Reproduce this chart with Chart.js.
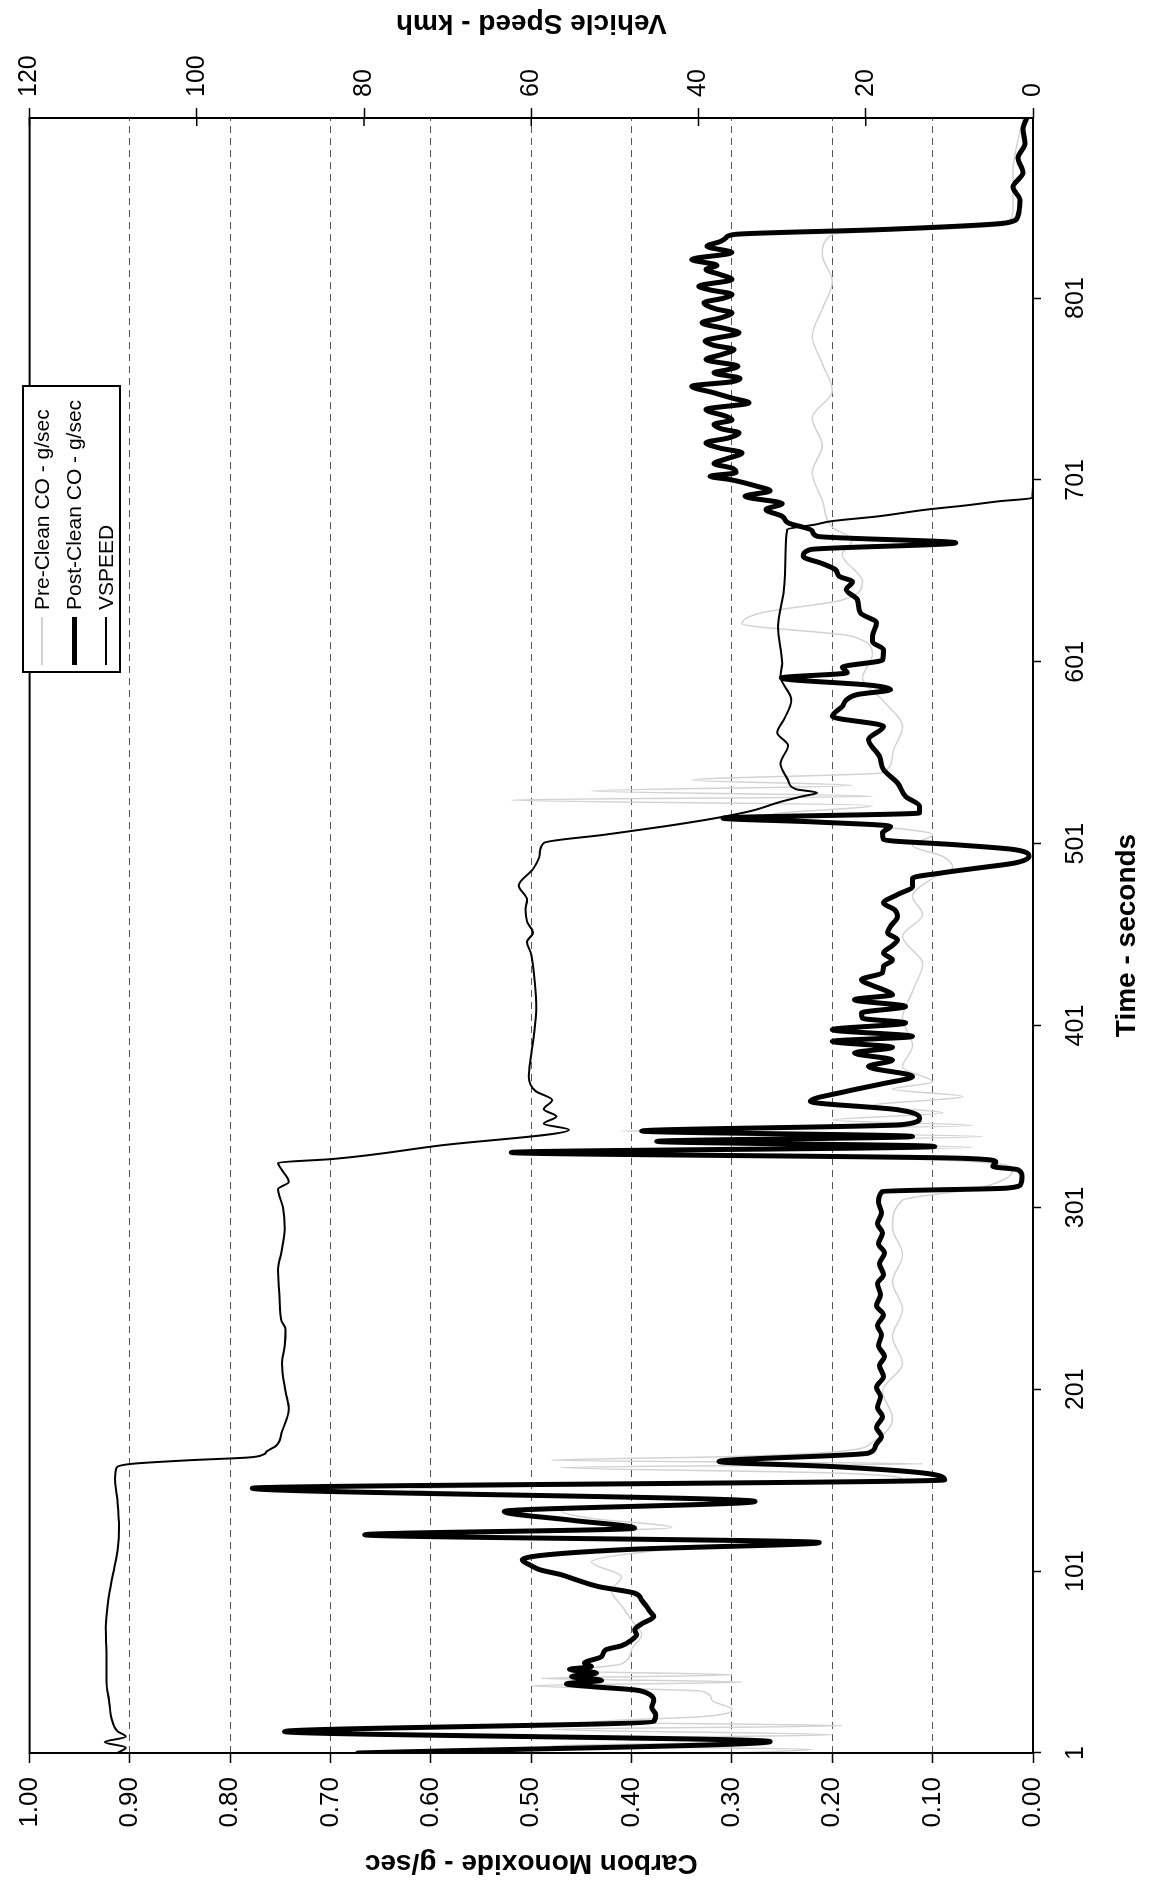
<!DOCTYPE html>
<html>
<head>
<meta charset="utf-8">
<title>Carbon Monoxide - Vehicle Speed</title>
<script src="https://cdn.jsdelivr.net/npm/chart.js@4.4.1/dist/chart.umd.min.js"></script>
<style>
  html, body { margin: 0; padding: 0; background: #fff; overflow: hidden; width: 1152px; height: 1883px; }
  /* the chart is drawn landscape, then turned a quarter turn like the scanned page */
  #page { position: absolute; left: 0; top: 0; width: 1883px; height: 1152px;
          transform-origin: 0 0; transform: translateY(1883px) rotate(-90deg); }
  #coChart { position: absolute; left: 0; top: 0; }
  #legend { position: absolute; left: 1210px; top: 22px; width: 288px; height: 99px; box-sizing: border-box;
            border: 2px solid #000; background: #fff; padding-top: 2px;
            font: 21px "Liberation Sans", Arial, sans-serif; color: #000; }
  #legend .row { display: flex; align-items: center; height: 32px; white-space: nowrap; }
  #legend .swatch { width: 48px; margin: 0 7px 0 6px; }
</style>
</head>
<body>
<div id="page">
  <canvas id="coChart" width="1883" height="1152"></canvas>
  <div id="legend"></div>
</div>
<script>
// Tick values
const timeTicks = [1, 101, 201, 301, 401, 501, 601, 701, 801];
const coTicks = [0, 0.1, 0.2, 0.3, 0.4, 0.5, 0.6, 0.7, 0.8, 0.9, 1.0];
const speedTicks = [0, 20, 40, 60, 80, 100, 120];
const seriesNames = ['Pre-Clean CO - g/sec', 'Post-Clean CO - g/sec', 'VSPEED'];

// Pre-Clean CO (g/sec)
const preTime = [1, 3, 5, 7, 9, 11, 14, 16, 18, 21, 25, 30, 35, 38, 40, 42, 44, 46, 50, 58,
  66, 74, 82, 90, 98, 106, 112, 117, 121, 125, 130, 134, 139, 146, 151, 155, 158, 160, 162, 164,
  167, 172, 185, 200, 215, 230, 245, 260, 275, 290, 305, 311, 316, 322, 327, 331, 334, 337, 340, 343,
  346, 349, 353, 357, 362, 366, 370, 378, 390, 405, 420, 435, 450, 462, 472, 482, 488, 494, 500, 506,
  512, 517, 522, 525, 527, 530, 533, 536, 540, 550, 565, 580, 592, 605, 615, 622, 628, 635, 645, 660,
  668, 675, 690, 705, 720, 735, 750, 765, 780, 795, 810, 825, 836, 841, 850, 870, 900];
const preCO = [0.30, 0.22, 0.48, 0.29, 0.45, 0.20, 0.48, 0.19, 0.44, 0.33, 0.30, 0.32, 0.33, 0.50, 0.29, 0.49, 0.30, 0.46, 0.41, 0.40,
  0.39, 0.40, 0.41, 0.42, 0.41, 0.44, 0.38, 0.26, 0.55, 0.36, 0.44, 0.47, 0.31, 0.62, 0.13, 0.20, 0.47, 0.11, 0.48, 0.30,
  0.19, 0.16, 0.14, 0.15, 0.13, 0.14, 0.13, 0.14, 0.13, 0.14, 0.13, 0.06, 0.03, 0.02, 0.09, 0.40, 0.06, 0.34, 0.05, 0.41,
  0.06, 0.20, 0.09, 0.16, 0.07, 0.14, 0.10, 0.13, 0.12, 0.13, 0.12, 0.11, 0.13, 0.11, 0.12, 0.10, 0.08, 0.09, 0.12, 0.10,
  0.18, 0.26, 0.16, 0.52, 0.16, 0.44, 0.18, 0.34, 0.15, 0.14, 0.13, 0.15, 0.17, 0.16, 0.18, 0.29, 0.27, 0.19, 0.17, 0.19,
  0.18, 0.20, 0.21, 0.22, 0.21, 0.22, 0.20, 0.21, 0.22, 0.21, 0.20, 0.21, 0.20, 0.03, 0.02, 0.02, 0.01];

// Post-Clean CO (g/sec), the heavy black trace
const postTime = [1, 7.3, 12.8, 18.3, 22, 26, 30, 34, 35.7, 37.5, 39, 41, 43, 45, 47, 48.5, 50.4, 54, 57.7, 60,
  63.2, 66, 68.7, 72, 76, 79, 81.5, 85, 88.9, 92.5, 96.2, 99, 101.7, 104, 107.2, 110, 113, 116.7, 121, 124.6,
  129, 133.8, 139.3, 146.6, 151.2, 155, 158.5, 161.3, 165.9, 170, 175, 180, 186, 191, 197, 202, 208, 214, 219,
  225, 231, 236, 242, 247, 253, 259, 264, 270, 276, 281, 287, 292, 298, 304, 309.8, 311.6, 314,
  318, 321.7, 323.5, 326, 328, 331.2, 334.5, 337.3, 340, 343, 346.5, 350, 354.7, 359.3, 364.8, 369, 373, 378.5, 382, 385.9,
  389, 392.3, 395, 398.7, 402.4, 405, 407.9, 411.5, 415.2, 418, 420.7, 423, 426.2, 430, 433.5, 437, 440.9, 445, 448.2, 452,
  455.5, 461, 464.7, 468.4, 473, 477.5, 482, 485, 487.6, 490.4, 494, 497.7, 500.4, 503.2, 507, 510.5, 513, 515, 517.9, 521.5,
  527, 534.4, 541.7, 549, 558.2, 565.5, 571, 576.5, 580, 583, 585.7, 588, 592.1, 595, 598, 602, 607.7, 612, 615, 622.4,
  627.9, 635.2, 640.7, 645, 648, 651.7, 655, 659, 662.7, 666.4, 670, 673, 677.4, 681, 684.7, 688,
  692, 695, 697.5, 701.2, 703, 705, 707.5, 710, 712.5, 715.9, 718.5, 721.4, 724, 726.9, 729, 731.5, 734, 736, 739.7, 743.4,
  746, 748.9, 752.5, 755, 756.8, 759.9, 761.5, 763.5, 767.2, 770, 772.7, 775, 777.3, 781.9, 784, 787.4, 790, 792.9, 795, 798.4,
  801, 803, 805.5, 807.5, 811.2, 814, 816.7, 819, 822.2, 826, 829.5, 832, 834.1, 836, 838.7, 842.4,
  846, 855, 862, 870, 878, 886, 894, 900];
const postCO = [0.673, 0.262, 0.746, 0.378, 0.376, 0.380, 0.378, 0.385, 0.397, 0.440, 0.465, 0.430, 0.460, 0.435, 0.462, 0.440, 0.447, 0.430, 0.426, 0.410,
  0.400, 0.395, 0.397, 0.390, 0.378, 0.382, 0.385, 0.390, 0.397, 0.433, 0.455, 0.470, 0.491, 0.500, 0.509, 0.484, 0.400, 0.213, 0.666, 0.397,
  0.460, 0.527, 0.277, 0.778, 0.088, 0.110, 0.200, 0.313, 0.164, 0.157, 0.151, 0.156, 0.150, 0.155, 0.152, 0.156, 0.149, 0.153, 0.148,
  0.154, 0.151, 0.155, 0.149, 0.156, 0.152, 0.155, 0.149, 0.153, 0.148, 0.154, 0.150, 0.155, 0.151, 0.154, 0.150, 0.026, 0.012,
  0.011, 0.015, 0.040, 0.037, 0.070, 0.520, 0.098, 0.375, 0.120, 0.390, 0.130, 0.113, 0.135, 0.222, 0.186, 0.150, 0.120, 0.164, 0.140, 0.178,
  0.140, 0.200, 0.120, 0.200, 0.127, 0.170, 0.171, 0.127, 0.178, 0.140, 0.149, 0.160, 0.171, 0.150, 0.149, 0.140, 0.149, 0.140, 0.135, 0.145,
  0.142, 0.135, 0.138, 0.149, 0.135, 0.120, 0.120, 0.090, 0.055, 0.018, 0.004, 0.018, 0.077, 0.149, 0.150, 0.142, 0.220, 0.309, 0.113, 0.113,
  0.127, 0.135, 0.149, 0.153, 0.164, 0.149, 0.200, 0.190, 0.186, 0.175, 0.142, 0.160, 0.251, 0.185, 0.190, 0.150, 0.149, 0.160, 0.160, 0.156,
  0.172, 0.175, 0.186, 0.180, 0.193, 0.197, 0.210, 0.229, 0.222, 0.077, 0.215, 0.220, 0.244, 0.250, 0.266, 0.250,
  0.287, 0.262, 0.275, 0.302, 0.322, 0.296, 0.300, 0.318, 0.306, 0.290, 0.312, 0.326, 0.304, 0.293, 0.310, 0.318, 0.300, 0.306, 0.326, 0.283,
  0.300, 0.318, 0.340, 0.300, 0.292, 0.318, 0.305, 0.294, 0.326, 0.310, 0.298, 0.318, 0.327, 0.293, 0.305, 0.330, 0.312, 0.300, 0.316, 0.328,
  0.308, 0.300, 0.322, 0.333, 0.300, 0.312, 0.326, 0.315, 0.340, 0.300, 0.325, 0.312, 0.306, 0.297, 0.149, 0.026,
  0.015, 0.013, 0.020, 0.010, 0.015, 0.008, 0.010, 0.006];

// Vehicle speed (km/h)
const speedTime = [1, 4, 7, 10, 13, 20, 30, 40, 55, 70, 85, 100, 112, 125, 140, 152, 158, 160, 162, 163.5,
  165, 167, 170, 178, 190, 200, 215, 225, 234, 239, 252, 267, 276, 289, 301, 311, 315, 322, 325.5, 327.6,
  335, 343.7, 347, 351, 355, 360, 365, 373, 385, 400, 410, 425, 440, 447, 452, 458, 465, 470, 478, 487,
  495, 501.4, 506, 510.5, 515, 519, 524, 527, 529, 531, 536, 545, 555, 562, 570, 580, 593, 600, 620, 640,
  660, 673.7, 676.5, 678.3, 681, 684.7, 687, 689.3, 691.1, 700, 750, 800, 850, 900];
const speedKmh = [109.5, 108.5, 111.0, 108.5, 109.5, 110.2, 110.5, 110.8, 110.8, 110.9, 110.6, 110.0, 109.5, 109.3, 109.5, 109.8, 109.6, 107.8, 100.8, 93.8,
  92.1, 91.6, 90.5, 89.8, 89.0, 89.4, 89.8, 89.5, 89.4, 89.9, 90.1, 90.3, 89.9, 89.5, 89.7, 90.3, 89.0, 89.9, 90.3, 83.8,
  71.0, 55.5, 58.5, 57.0, 58.5, 57.5, 59.5, 60.3, 60.0, 59.6, 59.4, 59.6, 60.0, 60.5, 59.8, 60.5, 60.7, 60.5, 61.5, 59.8,
  59.0, 58.5, 51.1, 44.1, 38.0, 33.7, 30.2, 27.6, 25.8, 28.4, 29.3, 30.2, 29.3, 30.6, 29.7, 28.9, 30.2, 30.0, 30.5, 29.8,
  29.6, 29.4, 26.0, 24.1, 18.5, 12.7, 8.0, 4.0, 0.1, 0, 0, 0, 0, 0];

const FONT = '"Liberation Sans", Arial, Helvetica, sans-serif';

function toPoints(xs, ys) {
    return xs.map((x, i) => ({ x: x, y: ys[i] }));
}

// Khung quanh vùng vẽ, vạch chia trục tốc độ cắt qua khung, tiêu đề trục phải
const frameAndTitle = {
    id: 'frameAndTitle',
    afterDraw(chart) {
        const { ctx, chartArea: a } = chart;
        const speedScale = chart.scales.y1;
        ctx.save();
        ctx.strokeStyle = '#000';
        ctx.lineWidth = 2;
        ctx.strokeRect(a.left, a.top, a.right - a.left, a.bottom - a.top);

        ctx.lineWidth = 1.5;
        ctx.beginPath();
        speedTicks.forEach(v => {
            const y = speedScale.getPixelForValue(v);
            ctx.moveTo(a.right - 8, y);
            ctx.lineTo(a.right, y);
        });
        ctx.stroke();

        ctx.translate(1860, (a.top + a.bottom) / 2);
        ctx.rotate(-Math.PI / 2);
        ctx.font = 'bold 28px ' + FONT;
        ctx.fillStyle = '#000';
        ctx.textAlign = 'center';
        ctx.textBaseline = 'middle';
        ctx.fillText('Vehicle Speed - kmh', 0, 0);
        ctx.restore();
    }
};

function initCOChart() {
    const ctx = document.getElementById('coChart');

    return new Chart(ctx, {
        type: 'line',
        data: {
            datasets: [
                {
                    label: seriesNames[0],
                    data: toPoints(preTime, preCO),
                    yAxisID: 'y',
                    borderColor: '#d2d2d2',
                    borderWidth: 1.5,
                    order: 3
                },
                {
                    label: seriesNames[1],
                    data: toPoints(postTime, postCO),
                    yAxisID: 'y',
                    borderColor: '#000',
                    borderWidth: 5,
                    borderJoinStyle: 'round',
                    borderCapStyle: 'round',
                    order: 1
                },
                {
                    label: seriesNames[2],
                    data: toPoints(speedTime, speedKmh),
                    yAxisID: 'y1',
                    borderColor: '#000',
                    borderWidth: 2,
                    order: 2
                }
            ]
        },
        options: {
            responsive: false,
            animation: false,
            devicePixelRatio: 1,
            layout: { padding: { top: 22, left: 0, right: 0, bottom: 0 } },
            elements: {
                point: { radius: 0 },
                line: { cubicInterpolationMode: 'monotone' }
            },
            plugins: {
                legend: { display: false },
                tooltip: { enabled: false }
            },
            scales: {
                x: {
                    type: 'linear',
                    position: 'bottom',
                    min: 1,
                    max: 900,
                    afterBuildTicks: s => { s.ticks = timeTicks.map(v => ({ value: v })); },
                    afterFit: s => { s.height = 119; },
                    grid: { drawOnChartArea: false, tickLength: 8, tickColor: '#000', tickWidth: 1.5 },
                    border: { display: false },
                    ticks: { color: '#000', font: { family: FONT, size: 25 }, padding: 20, maxRotation: 0, autoSkip: false },
                    title: {
                        display: true,
                        text: 'Time - seconds',
                        color: '#000',
                        font: { family: FONT, size: 28, weight: 'bold' },
                        padding: { top: 0, bottom: 8 }
                    }
                },
                y: {
                    position: 'left',
                    min: 0,
                    max: 1,
                    afterBuildTicks: s => { s.ticks = coTicks.map(v => ({ value: v })); },
                    afterFit: s => { s.width = 130; },
                    grid: { color: '#555', lineWidth: 1, tickLength: 10, tickColor: '#000', tickWidth: 1.5 },
                    border: { display: false, dash: [7, 5] },
                    ticks: { color: '#000', font: { family: FONT, size: 26 }, padding: 14, callback: v => v.toFixed(2) },
                    title: {
                        display: true,
                        text: 'Carbon Monoxide - g/sec',
                        color: '#000',
                        font: { family: FONT, size: 28, weight: 'bold' },
                        padding: { top: 3, bottom: 0 }
                    }
                },
                y1: {
                    position: 'right',
                    min: 0,
                    max: 120,
                    afterBuildTicks: s => { s.ticks = speedTicks.map(v => ({ value: v })); },
                    afterFit: s => { s.width = 118; },
                    grid: { drawOnChartArea: false, tickLength: 10, tickColor: '#000', tickWidth: 1.5 },
                    border: { display: false },
                    ticks: { color: '#000', font: { family: FONT, size: 25 }, padding: 11 }
                }
            }
        },
        plugins: [frameAndTitle]
    });
}

// Chú giải dựng từ các dataset của biểu đồ
function buildLegend(chart) {
    const box = document.getElementById('legend');
    chart.data.datasets.forEach(ds => {
        const row = document.createElement('div');
        row.className = 'row';
        const swatch = document.createElement('div');
        swatch.className = 'swatch';
        swatch.style.height = ds.borderWidth + 'px';
        swatch.style.background = ds.borderColor;
        const text = document.createElement('span');
        text.textContent = ds.label;
        row.appendChild(swatch);
        row.appendChild(text);
        box.appendChild(row);
    });
}

document.addEventListener('DOMContentLoaded', function () {
    const chart = initCOChart();
    buildLegend(chart);
});
</script>
</body>
</html>
